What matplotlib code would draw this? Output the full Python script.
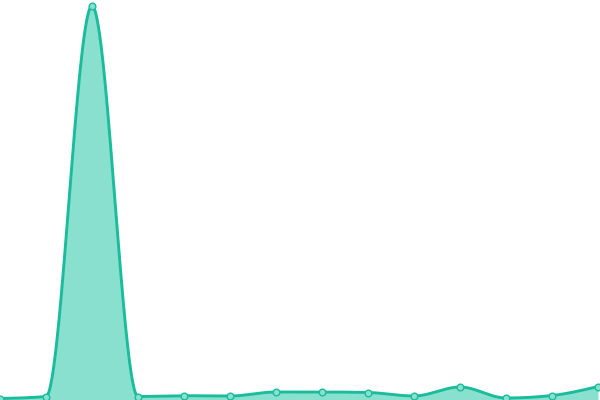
import numpy as np
import matplotlib
matplotlib.use('Agg')
import matplotlib.pyplot as plt

# Data
points = list(range(14))
values = [1.5, 3.5, 394, 3.5, 4.3, 4.0, 8.0, 8.0, 7.5, 4.0, 13.0, 2.0, 4.5, 13.5]

line_color = '#1abc9c'
fill_color = '#8ae0cf'


def monotone_tangents(x, y):
    # same rule as d3 curveMonotoneX
    n = len(x)
    t = np.zeros(n)
    for i in range(1, n - 1):
        h0 = x[i] - x[i - 1]
        h1 = x[i + 1] - x[i]
        s0 = (y[i] - y[i - 1]) / h0
        s1 = (y[i + 1] - y[i]) / h1
        p = (s0 * h1 + s1 * h0) / (h0 + h1)
        t[i] = (np.sign(s0) + np.sign(s1)) * min(abs(s0), abs(s1), 0.5 * abs(p))
    h = x[1] - x[0]
    t[0] = (3 * (y[1] - y[0]) / h - t[1]) / 2
    h = x[-1] - x[-2]
    t[-1] = (3 * (y[-1] - y[-2]) / h - t[-2]) / 2
    return t


def smooth(x, y, steps=60):
    x = np.asarray(x, float)
    y = np.asarray(y, float)
    t = monotone_tangents(x, y)
    xs, ys = [], []
    for i in range(len(x) - 1):
        h = x[i + 1] - x[i]
        u = np.linspace(0, 1, steps, endpoint=False)
        h00 = 2 * u**3 - 3 * u**2 + 1
        h10 = u**3 - 2 * u**2 + u
        h01 = -2 * u**3 + 3 * u**2
        h11 = u**3 - u**2
        xs.append(x[i] + u * h)
        ys.append(h00 * y[i] + h10 * h * t[i] + h01 * y[i + 1] + h11 * h * t[i + 1])
    xs.append([x[-1]])
    ys.append([y[-1]])
    return np.concatenate(xs), np.concatenate(ys)


fig = plt.figure(figsize=(6, 4), dpi=100)
ax = fig.add_axes([0, 0, 1, 1])

xs, ys = smooth(points, values)
ax.fill_between(xs, 0, ys, color=fill_color, linewidth=0)
ax.plot(xs, ys, color=line_color, linewidth=2.1, solid_capstyle='round')
ax.plot(points, values, 'o', markersize=4.8, markerfacecolor=fill_color,
        markeredgecolor=line_color, markeredgewidth=1)

ax.set_xlim(0, 600 / 46)
ax.set_ylim(0, 400)
ax.axis('off')

fig.savefig('out.png', dpi=100)
